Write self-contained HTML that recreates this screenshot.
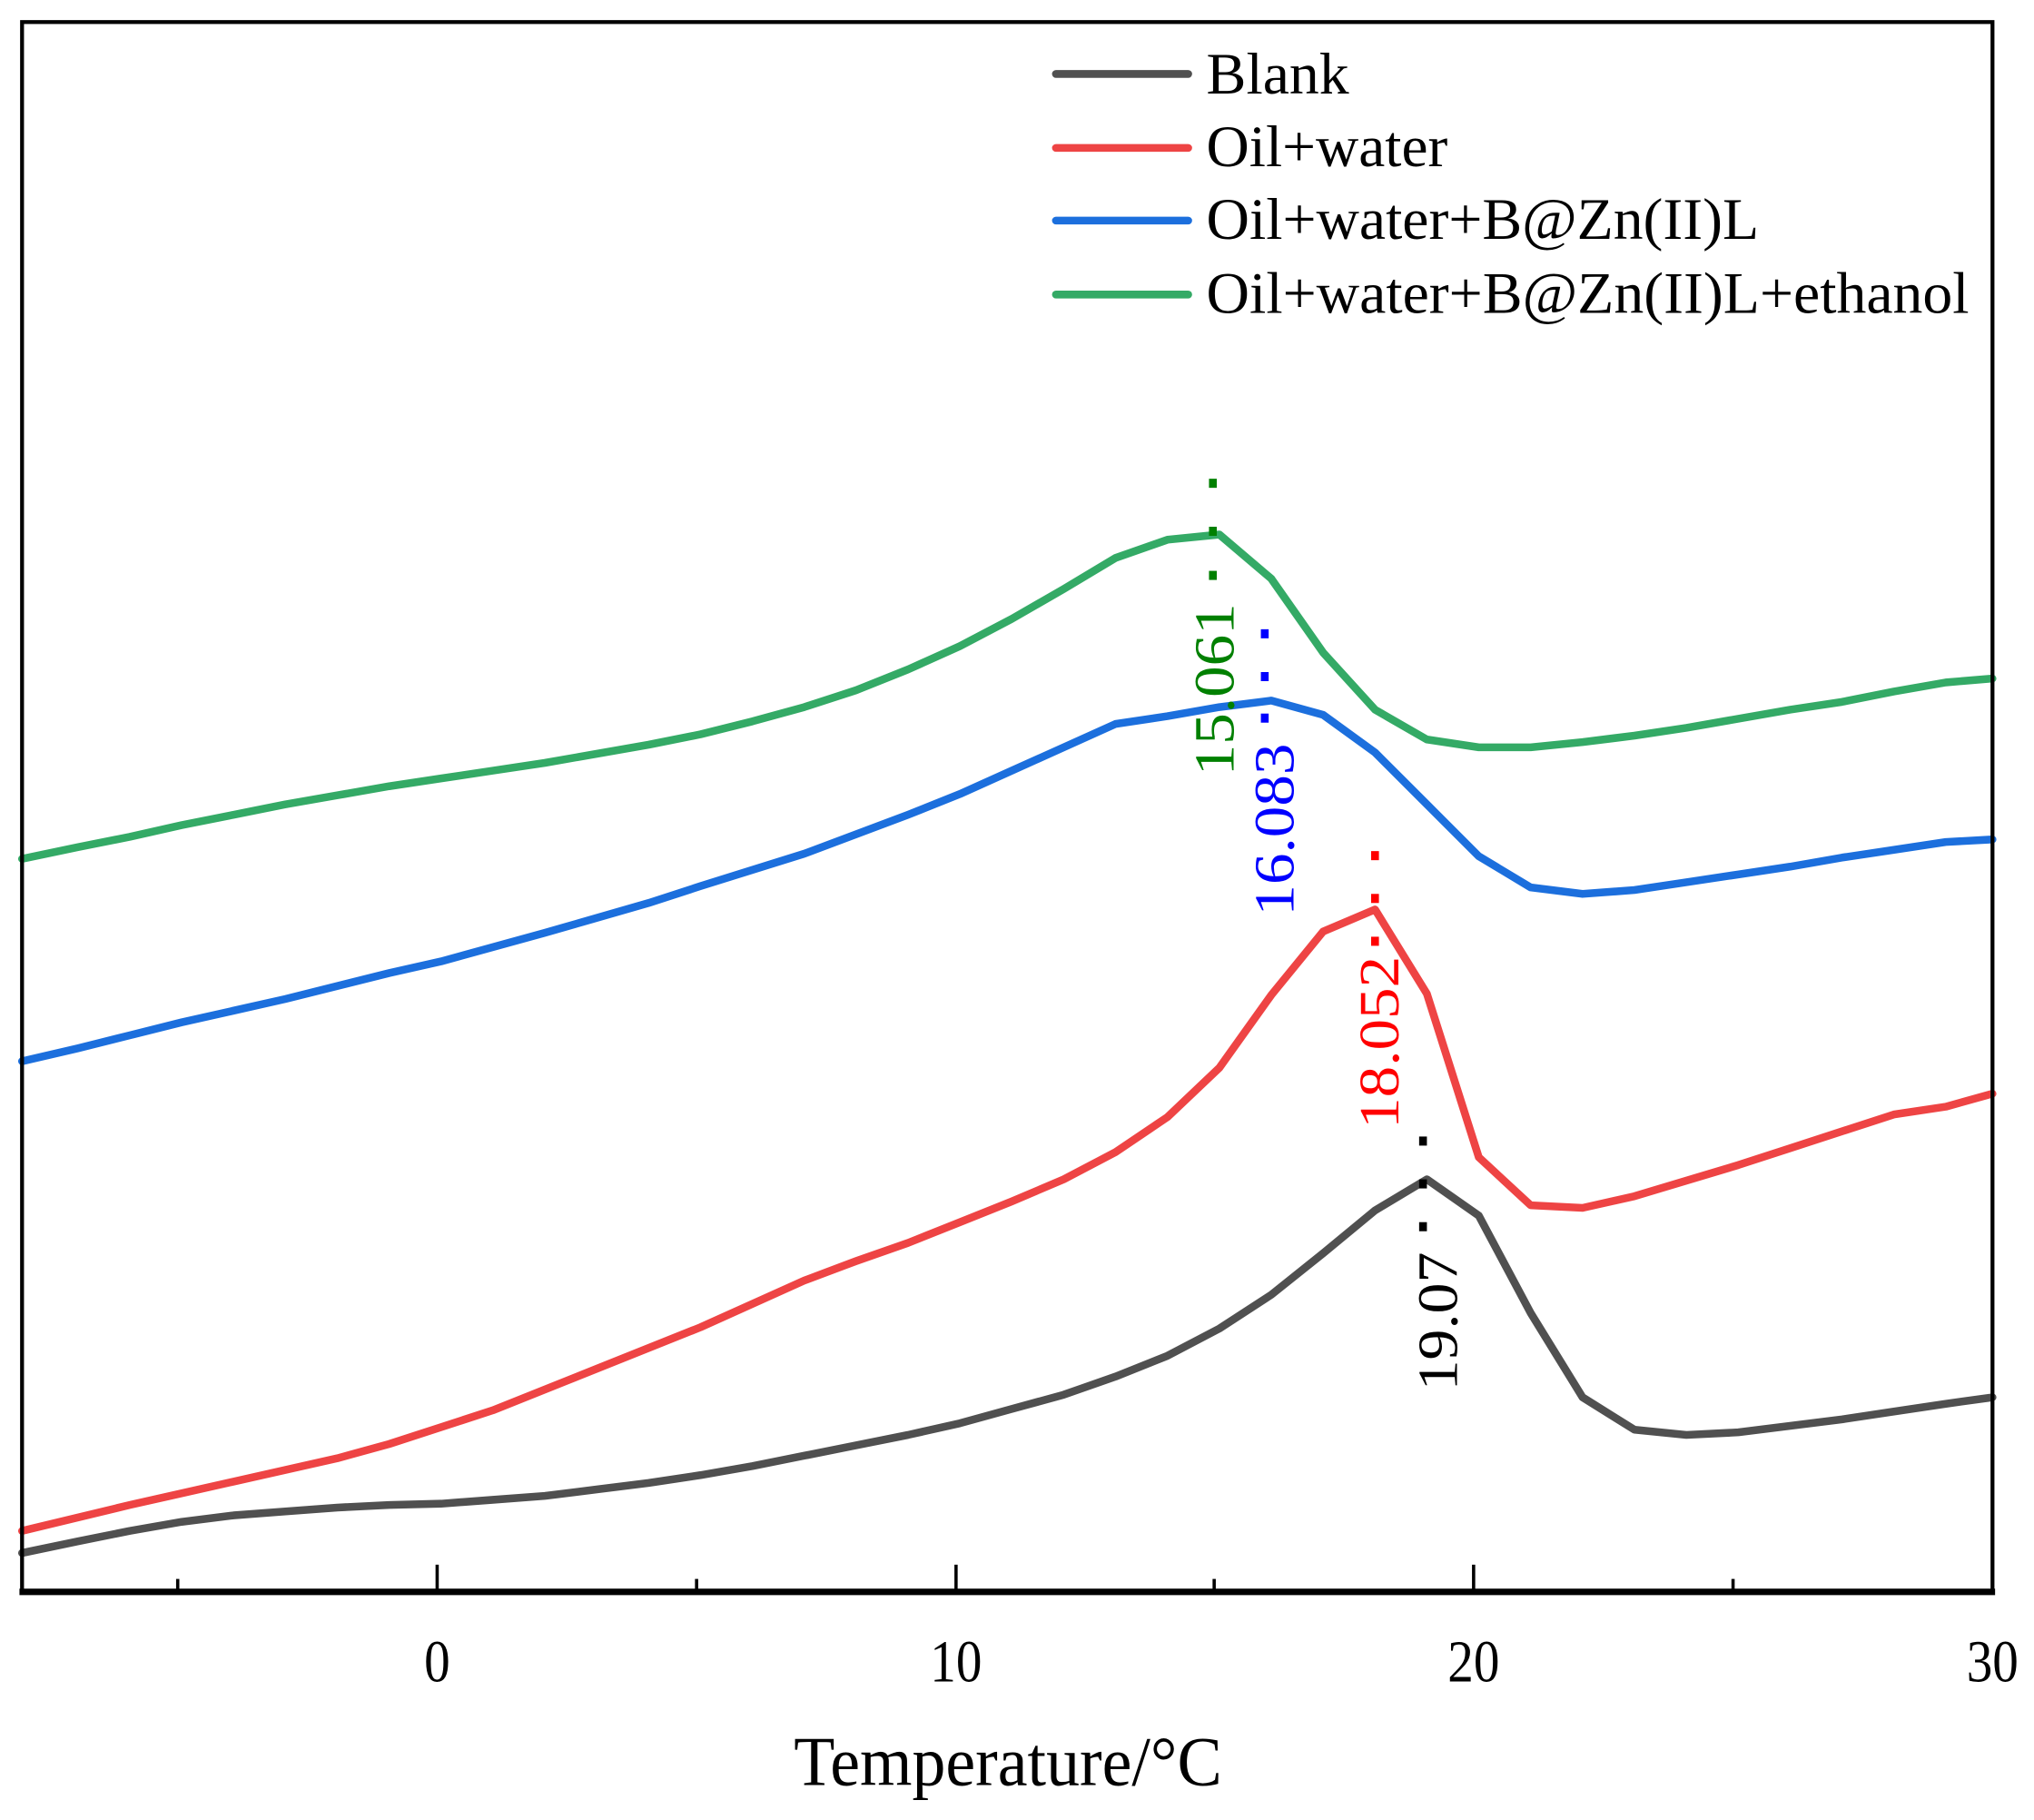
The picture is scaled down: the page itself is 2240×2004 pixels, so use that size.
<!DOCTYPE html>
<html><head><meta charset="utf-8"><style>html,body{margin:0;padding:0;background:#fff}svg{display:block}</style></head>
<body>
<svg width="2240" height="2004" viewBox="0 0 1568 1402.8" xmlns="http://www.w3.org/2000/svg" font-family="Liberation Serif, serif">
<rect width="1568" height="1402.8" fill="#fff"/>
<g fill="none" stroke-width="6" stroke-linejoin="round" stroke-linecap="round">
<polyline stroke="#505050" points="17,1197 60,1188 100,1180 140,1173 180,1168 220,1165 260,1162 300,1160 340,1159 380,1156 420,1153 460,1148 500,1143 540,1137 580,1130 620,1122 660,1114 700,1106 740,1097 780,1086 820,1075 860,1061 900,1045 940,1024 980,998 1020,966 1060,933 1100,909 1140,937 1180,1012 1220,1077 1260,1102 1300,1106 1340,1104 1380,1099 1420,1094 1460,1088 1500,1082 1536,1077"/>
<polyline stroke="#EE4444" points="17,1180 100,1160 180,1142 260,1124 300,1113 340,1100 380,1087 460,1055 540,1023 620,987 660,972 700,958 740,942 780,926 820,909 860,888 900,861 940,823 980,767 1020,718 1060,701 1100,766 1140,892 1180,929 1220,931 1260,922 1300,910 1340,898 1380,885 1420,872 1460,859 1500,853 1536,843"/>
<polyline stroke="#1C6FDD" points="17,818 60,808 100,798 140,788 220,770 300,750 340,741 420,719 500,696 540,683 620,658 700,628 740,612 780,594 820,576 860,558 900,552 940,545 980,540 1020,551 1060,580 1100,620 1140,660 1180,684 1220,689 1260,686 1300,680 1340,674 1380,668 1420,661 1460,655 1500,649 1536,647"/>
<polyline stroke="#34AA66" points="17,662 60,653 100,645 140,636 180,628 220,620 260,613 300,606 340,600 380,594 420,588 460,581 500,574 540,566 580,556 620,545 660,532 700,516 740,498 780,477 820,454 860,430 900,416 940,412 980,446 1020,503 1060,547 1100,570 1140,576 1180,576 1220,572 1260,567 1300,561 1340,554 1380,547 1420,541 1460,533 1500,526 1536,523"/>
</g>
<g>
<rect x="932" y="369" width="6" height="7" fill="#008000"/><rect x="932" y="406" width="6" height="7" fill="#008000"/><rect x="932" y="440" width="6" height="7" fill="#008000"/>
<rect x="972" y="485" width="6" height="7" fill="#0000ff"/><rect x="972" y="518" width="6" height="7" fill="#0000ff"/><rect x="972" y="550" width="6" height="7" fill="#0000ff"/>
<rect x="1057" y="656" width="6" height="7" fill="#ff0000"/><rect x="1057" y="689" width="6" height="7" fill="#ff0000"/><rect x="1057" y="722" width="6" height="7" fill="#ff0000"/>
<rect x="1094" y="876" width="6" height="7" fill="#000"/><rect x="1094" y="909" width="6" height="7" fill="#000"/><rect x="1094" y="942" width="6" height="7" fill="#000"/>
</g>
<g font-size="44">
<text transform="translate(951,598) rotate(-90)" fill="#008000" textLength="133" lengthAdjust="spacingAndGlyphs">15.061</text>
<text transform="translate(997,706) rotate(-90)" fill="#0000ff" textLength="133" lengthAdjust="spacingAndGlyphs">16.083</text>
<text transform="translate(1078,870) rotate(-90)" fill="#ff0000" textLength="133" lengthAdjust="spacingAndGlyphs">18.052</text>
<text transform="translate(1123,1072) rotate(-90)" fill="#000" textLength="107" lengthAdjust="spacingAndGlyphs">19.07</text>
</g>
<g stroke="#000" fill="none">
<rect x="17" y="17" width="1519" height="1210" stroke-width="3"/>
<line x1="15" y1="1227" x2="1538" y2="1227" stroke-width="5"/>
<g stroke-width="2.5">
<line x1="337" y1="1227" x2="337" y2="1206"/><line x1="737" y1="1227" x2="737" y2="1206"/><line x1="1136" y1="1227" x2="1136" y2="1206"/>
<line x1="137" y1="1227" x2="137" y2="1217"/><line x1="537" y1="1227" x2="537" y2="1217"/><line x1="936" y1="1227" x2="936" y2="1217"/><line x1="1336" y1="1227" x2="1336" y2="1217"/>
</g>
</g>
<g font-size="46" text-anchor="middle" fill="#000">
<text x="337" y="1296" textLength="20" lengthAdjust="spacingAndGlyphs">0</text><text x="737" y="1296" textLength="40" lengthAdjust="spacingAndGlyphs">10</text><text x="1136" y="1296" textLength="40" lengthAdjust="spacingAndGlyphs">20</text><text x="1536" y="1296" textLength="40" lengthAdjust="spacingAndGlyphs">30</text>
</g>
<text x="777" y="1376" font-size="54" text-anchor="middle" textLength="330" lengthAdjust="spacingAndGlyphs">Temperature/°C</text>
<g stroke-width="6" stroke-linecap="round">
<line x1="814" y1="57" x2="916" y2="57" stroke="#505050"/>
<line x1="814" y1="114" x2="916" y2="114" stroke="#EE4444"/>
<line x1="814" y1="170" x2="916" y2="170" stroke="#1C6FDD"/>
<line x1="814" y1="227" x2="916" y2="227" stroke="#34AA66"/>
</g>
<g font-size="45" fill="#000">
<text x="930" y="72" textLength="110" lengthAdjust="spacingAndGlyphs">Blank</text>
<text x="930" y="128" textLength="186" lengthAdjust="spacingAndGlyphs">Oil+water</text>
<text x="930" y="184" textLength="426" lengthAdjust="spacingAndGlyphs">Oil+water+B@Zn(II)L</text>
<text x="930" y="241" textLength="588" lengthAdjust="spacingAndGlyphs">Oil+water+B@Zn(II)L+ethanol</text>
</g>
</svg>
</body></html>
